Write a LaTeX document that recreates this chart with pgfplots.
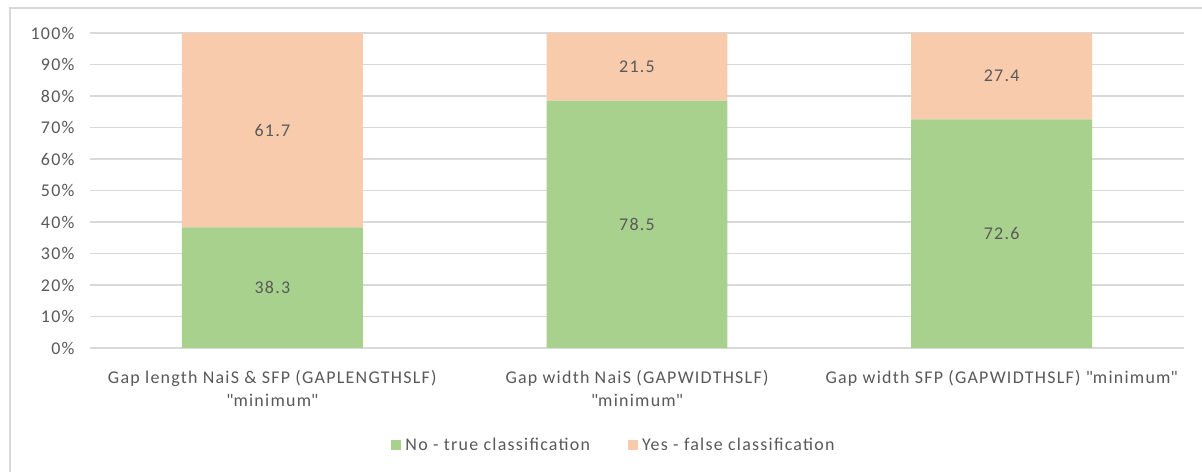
\documentclass[border=0pt]{standalone}
\usepackage{fontspec}
\setmainfont{Carlito}[LetterSpace=7]
\usepackage{pgfplots}
\pgfplotsset{compat=1.18}
\definecolor{gr}{HTML}{A9D18E}
\definecolor{orr}{HTML}{F8CBAD}
\definecolor{tx}{HTML}{595959}
\definecolor{gl}{HTML}{D9D9D9}
\newcommand{\cf}{\fontsize{18}{23}\selectfont}
\begin{document}
\begin{tikzpicture}[x=1bp,y=1bp,font=\cf]
\useasboundingbox (0,0) rectangle (1202,472);
\fill[white] (0,0) rectangle (1202,472);
\draw[gl, line width=1.3bp] (10,0) -- (10,464) -- (1202,464);
\begin{axis}[
  at={(90bp,124bp)}, anchor=south west,
  width=1094bp, height=315bp, scale only axis,
  ybar stacked, bar width=0.496,
  xmin=-0.5, xmax=2.5, ymin=0, ymax=100,
  axis x line*=bottom, axis y line*=left,
  x axis line style={gl, line width=1.3bp, -},
  y axis line style={draw=none},
  ymajorgrids, grid style={gl, line width=1.3bp},
  major tick length=0pt,
  xtick={0,1,2},
  xticklabels={{Gap length NaiS \& SFP (GAPLENGTHSLF)\\\textquotedbl minimum\textquotedbl},{Gap width NaiS (GAPWIDTHSLF)\\\textquotedbl minimum\textquotedbl},{Gap width SFP (GAPWIDTHSLF) \textquotedbl minimum\textquotedbl}},
  xticklabel style={align=center, text=tx, font=\cf, yshift=-19bp},
  ytick={0,10,...,100},
  yticklabels={0\%,10\%,20\%,30\%,40\%,50\%,60\%,70\%,80\%,90\%,100\%},
  yticklabel style={text=tx, font=\cf, xshift=-12bp},
  legend style={draw=none, legend columns=2, at={(0.479,-0.308)}, anchor=center,
    font=\cf, text=tx, /tikz/every even column/.append style={column sep=36bp},
    /tikz/every odd column/.append style={column sep=2bp}},
  legend image code/.code={\fill[#1] (0bp,-5bp) rectangle (10bp,5bp);},
]
\addplot[fill=gr, draw=none] coordinates {(0,38.3) (1,78.5) (2,72.6)};
\addplot[fill=orr, draw=none] coordinates {(0,61.7) (1,21.5) (2,27.4)};
\legend{No - true classification, Yes - false classification}
\end{axis}
\begin{axis}[
  at={(90bp,124bp)}, anchor=south west,
  width=1094bp, height=315bp, scale only axis,
  xmin=-0.5, xmax=2.5, ymin=0, ymax=100,
  axis lines=none, ticks=none,
]
\addplot[draw=none, mark=none, nodes near coords, point meta=explicit symbolic,
  every node near coord/.style={anchor=center, text=tx, font=\cf}]
  coordinates {(0,19.15)[38.3] (1,39.25)[78.5] (2,36.3)[72.6]
               (0,69.15)[61.7] (1,89.25)[21.5] (2,86.3)[27.4]};
\end{axis}
\end{tikzpicture}
\end{document}
